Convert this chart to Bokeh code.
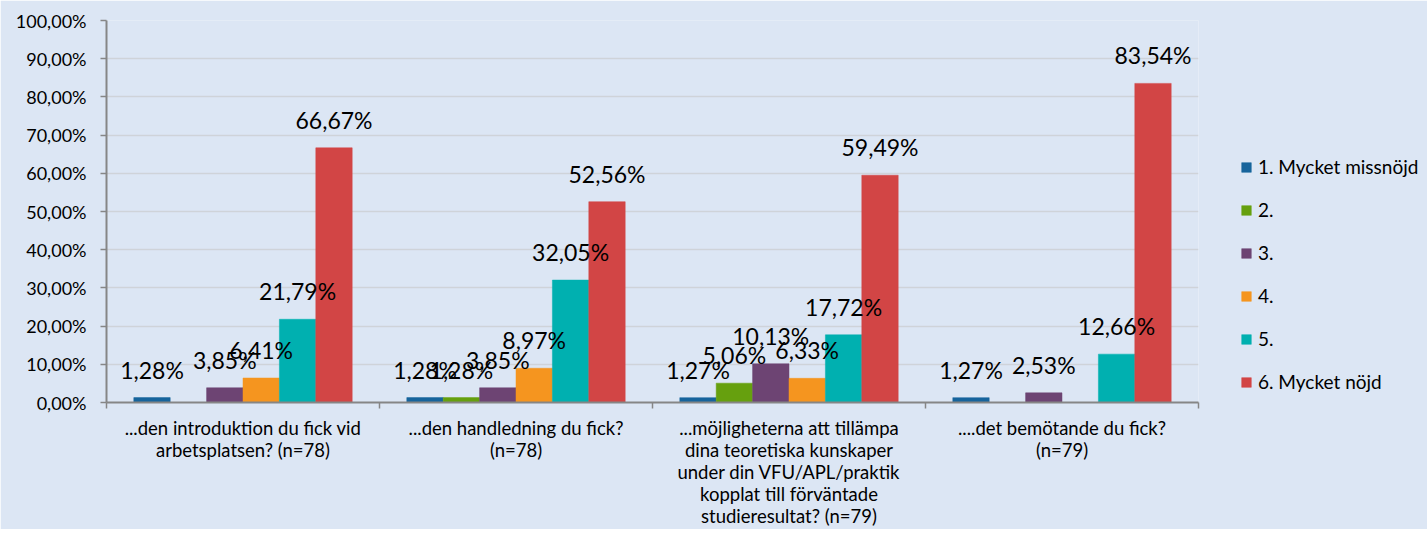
import numpy as np
from bokeh.plotting import figure
from bokeh.models import (ColumnDataSource, FixedTicker, Legend, LegendItem,
                          LabelSet, Range1d)
from bokeh.core.properties import value
from bokeh.embed import file_html
from bokeh.resources import INLINE

categories = [
    "...den introduktion du fick vid\narbetsplatsen? (n=78)",
    "...den handledning du fick?\n(n=78)",
    "...möjligheterna att tillämpa\ndina teoretiska kunskaper\nunder din VFU/APL/praktik\nkopplat till förväntade\nstudieresultat? (n=79)",
    "....det bemötande du fick?\n(n=79)",
]
series_names = ["1. Mycket missnöjd", "2.", "3.", "4.", "5.", "6. Mycket nöjd"]
s1 = [1.28, 1.28, 1.27, 1.27]
s2 = [0.0, 1.28, 5.06, 0.0]
s3 = [3.85, 3.85, 10.13, 2.53]
s4 = [6.41, 8.97, 6.33, 0.0]
s5 = [21.79, 32.05, 17.72, 12.66]
s6 = [66.67, 52.56, 59.49, 83.54]
series_values = [s1, s2, s3, s4, s5, s6]
colors = ["#17649c", "#66a00e", "#6d4473", "#f5951f", "#00b0b0", "#d24545"]
y_ticks = [0, 10, 20, 30, 40, 50, 60, 70, 80, 90, 100]
y_tick_labels = ["0,00%", "10,00%", "20,00%", "30,00%", "40,00%", "50,00%",
                 "60,00%", "70,00%", "80,00%", "90,00%", "100,00%"]

BG = "#dce6f4"
FONT = "Lato"

p = figure(frame_width=1092, frame_height=382,
           min_border_left=106, min_border_right=213,
           min_border_top=20, min_border_bottom=125,
           x_range=Range1d(0, 4), y_range=Range1d(0, 100),
           output_backend="svg", toolbar_location=None)
p.background_fill_color = BG
p.border_fill_color = BG
p.outline_line_color = None

n_series = len(series_names)
slot = 1.0 / (n_series + 1.5)
bar_w = slot
idx = np.arange(len(categories))

items = []
for j, (name, vals, col) in enumerate(zip(series_names, series_values, colors)):
    xs = idx + slot * 0.75 + (j + 0.5) * slot
    vals = np.array(vals, dtype=float)
    labels = [(f"{v:.2f}".replace(".", ",") + "%") if v > 0 else "" for v in vals]
    src = ColumnDataSource(dict(x=xs, top=vals, label=labels))
    r = p.vbar(x="x", top="top", width=bar_w, bottom=0, source=src,
               fill_color=col, line_color=col, line_width=0.5)
    items.append(LegendItem(label=name, renderers=[r]))
    ls = LabelSet(x="x", y="top", text="label", source=src,
                  text_align="center", text_baseline="alphabetic",
                  y_offset=19, text_font=value(FONT), text_font_size="23px",
                  text_color="#000000")
    p.add_layout(ls)

# axes
p.yaxis.ticker = FixedTicker(ticks=y_ticks)
p.yaxis.major_label_overrides = {t: l for t, l in zip(y_ticks, y_tick_labels)}
p.yaxis.major_label_text_font = FONT
p.yaxis.major_label_text_font_size = "18px"
p.yaxis.major_label_text_color = "#000000"
p.yaxis.axis_line_color = "#868686"
p.yaxis.axis_line_width = 2
p.yaxis.major_tick_line_color = "#868686"
p.yaxis.major_tick_line_width = 1.5
p.yaxis.major_tick_out = 6
p.yaxis.major_tick_in = 0
p.yaxis.minor_tick_line_color = None
p.yaxis.major_label_standoff = 14

centers = [i + 0.5 for i in range(len(categories))]
p.xaxis.ticker = FixedTicker(ticks=centers, minor_ticks=list(range(len(categories) + 1)))
p.xaxis.major_label_overrides = {c: l for c, l in zip(centers, categories)}
p.xaxis.major_label_text_font = FONT
p.xaxis.major_label_text_font_size = "18.5px"
p.xaxis.major_label_text_color = "#000000"
p.xaxis.major_label_text_line_height = 1.0
p.xaxis.axis_line_color = "#868686"
p.xaxis.axis_line_width = 2
p.xaxis.major_tick_line_color = None
p.xaxis.minor_tick_line_color = "#868686"
p.xaxis.minor_tick_line_width = 1.5
p.xaxis.minor_tick_out = 6
p.xaxis.minor_tick_in = 0
p.xaxis.major_label_standoff = 8

p.xgrid.grid_line_color = None
p.ygrid.grid_line_color = "#cfd3d9"
p.ygrid.grid_line_width = 1.5

legend = Legend(items=items, location=(42, 9), orientation="vertical",
                padding=0, margin=0, spacing=20,
                glyph_width=12, glyph_height=12, label_height=20,
                label_standoff=6, label_text_font=FONT,
                label_text_font_size="19px", label_text_color="#000000",
                border_line_color=None, background_fill_alpha=0)
p.add_layout(legend, "right")

open("out.html", "w").write(file_html(p, INLINE))
